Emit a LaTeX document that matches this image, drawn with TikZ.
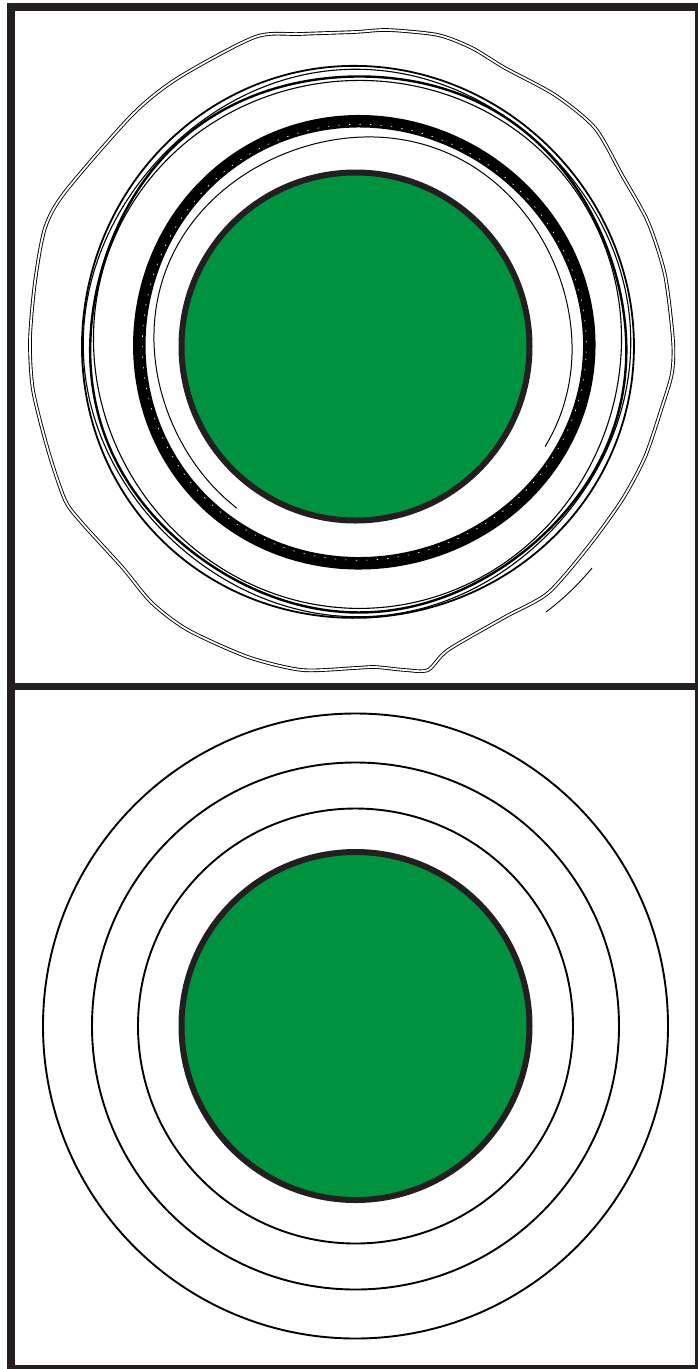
\documentclass[tikz,border=0pt]{standalone}
\usepackage{tikz}
\definecolor{frame}{HTML}{231F20}
\definecolor{leaf}{RGB}{0,146,63}
\tikzset{
  framebar/.style={draw=frame},
  core/.style={draw=frame, fill=leaf, line width=6},
  ringline/.style={draw=black, line width=1.9},
  outerring/.style={draw=black, line width=0.9, double=white, double distance=1.8}
}
\begin{document}
\begin{tikzpicture}[x=1pt,y=-1pt]
\useasboundingbox (0,0) rectangle (698,1369);
\fill[white] (0,0) rectangle (698,1369);

% ---------- top panel ----------
% outer irregular ring
\draw[outerring] plot[smooth cycle, tension=0.45] coordinates {
 (255,37) (300,34) (355,32) (388,30) (438,35) (472,48) (505,68) (555,95)
 (595,128) (622,175) (648,222) (665,275) (673,340) (672,373) (662,407)
 (645,457) (622,500) (588,547) (548,593) (505,617) (448,650) (428,670)
 (405,670) (375,667) (355,668) (302,670) (248,657) (188,630) (152,603)
 (122,567) (82,523) (65,500) (48,450) (33,390) (30,340) (35,282) (45,228)
 (65,192) (132,115) (178,78)};
\draw[line width=0.9] (546,612) .. controls (562,600) and (578,585) .. (592,568);

% second ring: bundle of strokes
\draw[line width=1.8] plot[smooth cycle, domain=0:356, samples=90, variable=\t]
  ({357+(276+1.5*sin(3*\t+40))*cos(\t)}, {343+(276+1.5*sin(3*\t+40))*sin(\t)});
\draw[line width=1.1] plot[smooth cycle, domain=0:356, samples=90, variable=\t]
  ({357+(272+1.8*sin(4*\t+100))*cos(\t)}, {343+(272+1.8*sin(4*\t+100))*sin(\t)});
\draw[line width=2.4] plot[smooth cycle, domain=0:356, samples=90, variable=\t]
  ({358+(268+1.5*sin(5*\t+10))*cos(\t)}, {343+(268+1.5*sin(5*\t+10))*sin(\t)});
\draw[line width=1.1] plot[smooth cycle, domain=0:356, samples=90, variable=\t]
  ({358+(264+1.5*sin(3*\t+200))*cos(\t)}, {343+(264+1.5*sin(3*\t+200))*sin(\t)});

% inner thick ring
\draw[line width=12.5] plot[smooth cycle, domain=0:356, samples=90, variable=\t]
  ({363+(225+1.5*sin(3*\t+60))*cos(\t)}, {343+(221+1.5*sin(3*\t+60))*sin(\t)});
\draw[white, line width=0.6, dash pattern=on 1.5pt off 9pt] plot[smooth cycle, domain=0:356, samples=90, variable=\t]
  ({363+(222+1.5*sin(3*\t+60))*cos(\t)}, {343+(218+1.5*sin(3*\t+60))*sin(\t)});
\draw[line width=1] plot[smooth, domain=127:390, samples=60, variable=\t]
  ({363+(209+1.5*sin(4*\t))*cos(\t)}, {343+(206+1.5*sin(4*\t))*sin(\t)});

% green core
\draw[core] (355.5,346.5) circle[radius=174];

% ---------- bottom panel ----------
\draw[ringline] (355.5,1026) circle[radius=312.5];
\draw[ringline] (355.5,1026) circle[radius=263.5];
\draw[ringline] (355.5,1026) circle[radius=217.5];
\draw[core] (355.5,1026) circle[radius=174];

% ---------- frame ----------
\draw[framebar, line width=8] (11,3) -- (11,1369);
\draw[framebar, line width=8] (7,7) -- (698,7);
\draw[framebar, line width=7] (7,686.5) -- (698,686.5);
\draw[framebar, line width=3] (696.5,3) -- (696.5,1369);
\draw[framebar, line width=4] (7,1367) -- (698,1367);
\end{tikzpicture}
\end{document}
